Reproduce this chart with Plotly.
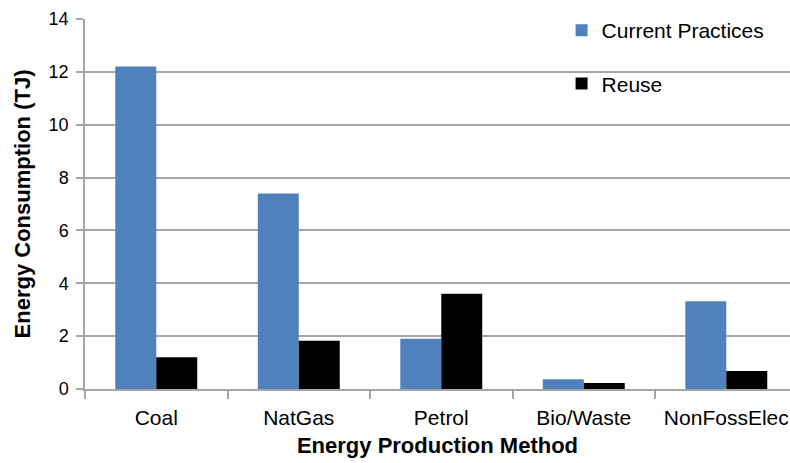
import plotly.graph_objects as go

# Energy consumption by production method
categories = ["Coal", "NatGas", "Petrol", "Bio/Waste", "NonFossElec"]
current_practices = [12.2, 7.4, 1.9, 0.37, 3.32]
reuse = [1.2, 1.83, 3.6, 0.23, 0.68]
y_ticks = [0, 2, 4, 6, 8, 10, 12, 14]

FONT = "Liberation Sans, Arial, sans-serif"
GRID = "#a6a6a6"

fig = go.Figure()
fig.add_trace(go.Bar(
    name="Current Practices", x=categories, y=current_practices,
    marker=dict(color="#4f81bd", line=dict(width=0)), legendgroup="a",
))
fig.add_trace(go.Bar(
    name="Reuse", x=categories, y=reuse,
    marker=dict(color="#000000", line=dict(width=0)), legendgroup="b",
))

fig.update_layout(
    width=790, height=463,
    margin=dict(l=85, r=0, t=19, b=74),
    paper_bgcolor="white", plot_bgcolor="white",
    barmode="group", bargap=0.425, bargroupgap=0,
    font=dict(family=FONT, color="#000000"),
    legend=dict(
        x=0.676, y=1.024, xanchor="left", yanchor="top",
        font=dict(family=FONT, size=21, color="#000000"),
        bgcolor="rgba(0,0,0,0)", tracegroupgap=23,
        itemwidth=30,
    ),
    xaxis=dict(
        type="category", range=[-0.5, 4.447],
        showline=True, linecolor=GRID, linewidth=1.5,
        ticks="outside", ticklen=8, tickcolor=GRID, tickwidth=1.5,
        tickson="boundaries", showgrid=False,
        tickfont=dict(family=FONT, size=21),
        ticklabelstandoff=9,
        title=dict(text="<b>Energy Production Method</b>",
                   font=dict(family=FONT, size=22), standoff=10),
    ),
    yaxis=dict(
        range=[0, 14], tickvals=y_ticks,
        showline=True, linecolor=GRID, linewidth=1.5,
        ticks="outside", ticklen=7, tickcolor=GRID, tickwidth=1.5,
        showgrid=True, gridcolor=GRID, gridwidth=1.5,
        zeroline=False,
        tickfont=dict(family=FONT, size=18),
        ticklabelstandoff=4,
        title=dict(text="<b>Energy Consumption (TJ)</b>",
                   font=dict(family=FONT, size=22), standoff=12),
    ),
)

fig.write_html("out.html")
